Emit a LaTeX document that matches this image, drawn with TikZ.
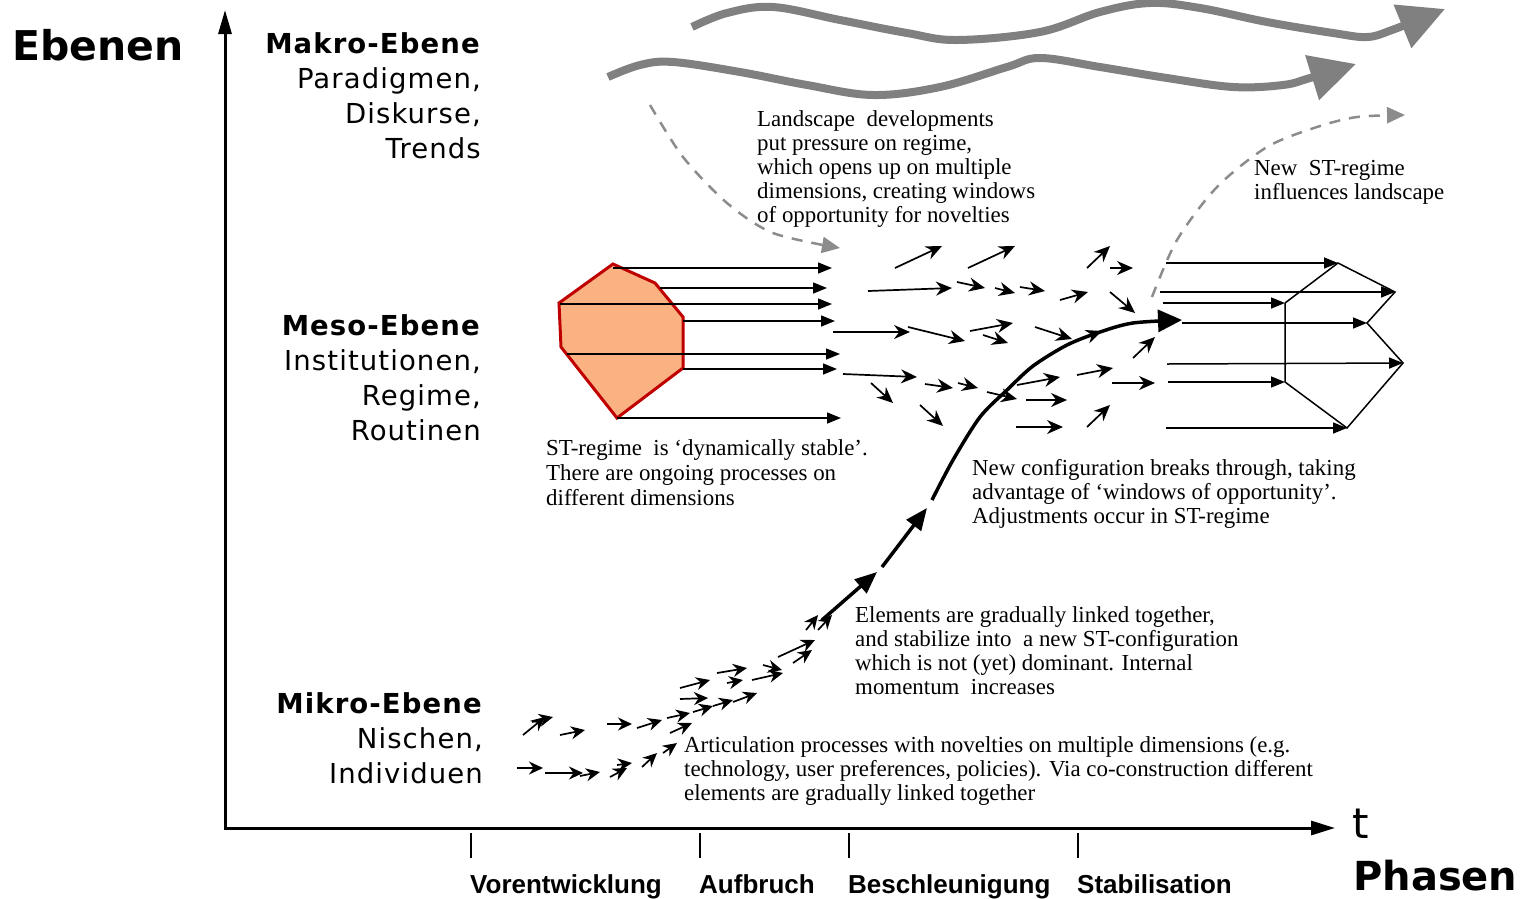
\documentclass[tikz,border=0pt]{standalone}
\usepackage{fontspec}
\setmainfont{Liberation Serif}
\newfontfamily\levelfont[LetterSpace=4]{DejaVu Sans}
\newfontfamily\titlefont{DejaVu Sans}
\newfontfamily\phasefont{Liberation Sans}
\usepackage{tikz}
\usetikzlibrary{arrows.meta}
\definecolor{regimefill}{HTML}{FAB283}
\definecolor{regimeline}{HTML}{C00000}

\begin{document}
\begin{tikzpicture}[x=1pt, y=-1pt,
    axis/.style={line width=3pt},
    tick/.style={line width=2.5pt},
    wave/.style={line width=8pt, black!50, -{Triangle[length=46pt,width=45pt]}},
    land/.style={line width=2.5pt, black!45, dash pattern=on 11pt off 9pt, -{Triangle[length=18pt,width=16pt]}},
    flow/.style={line width=1.5pt, -{Triangle[length=14pt,width=11pt]}},
    nov/.style={line width=1.7pt, -{Stealth[length=16pt,width=14pt]}},
    niche/.style={line width=1.7pt, -{Stealth[length=14pt,width=13pt]}},
    trajectory/.style={line width=3.5pt},
    level/.style={font=\levelfont\fontsize{27.5}{35}\selectfont, align=right, inner sep=0, anchor=north east},
    note/.style={font=\fontsize{22.9}{24}\selectfont, align=left, inner sep=0, anchor=north west},
    phase/.style={font=\phasefont\bfseries\fontsize{26}{30}\selectfont, inner sep=0, anchor=base west},
    title/.style={font=\titlefont\bfseries\fontsize{41}{45}\selectfont, inner sep=0, anchor=base west}
]
\useasboundingbox (0,0) rectangle (1529,898);

% axes
\coordinate (origin) at (225,828);
\coordinate (ytip) at (225,10);
\coordinate (xtip) at (1335,828);
\draw[axis, {Triangle[length=24pt,width=13pt]}-{Triangle[length=24pt,width=14pt]}] (ytip) -- (origin) -- (xtip);
\node[title] (ebenen) at (12,60) {Ebenen};
\node[title, font=\titlefont\bfseries\fontsize{40}{44}\selectfont] (phasen) at (1353,890) {Phasen};
\node[font=\titlefont\fontsize{42}{45}\selectfont, inner sep=0, anchor=base west] (t) at (1352,838) {t};

% phases
\foreach \x/\name/\txt in {471/vor/Vorentwicklung, 700/auf/Aufbruch, 849/bes/Beschleunigung, 1078/sta/Stabilisation}{
    \draw[tick] (\x,833) -- (\x,858);
    \node[phase] (\name) at (\x-1,893) {\txt};
}

% levels
\node[level] (makro) at (481,32) {\textbf{Makro-Ebene}\\Paradigmen,\\Diskurse,\\Trends};
\node[level] (meso) at (481,314) {\textbf{Meso-Ebene}\\Institutionen,\\Regime,\\Routinen};
\node[level] (mikro) at (483,692) {\textbf{Mikro-Ebene}\\Nischen,\\Individuen};

% landscape
\draw[wave] plot[smooth, tension=0.6] coordinates {(692,27) (727,13) (773,7) (840,20) (907,33) (957,40) (1040,32) (1100,12) (1150,3) (1200,8) (1267,22) (1333,33) (1367,37) (1392,30) (1445,9)};
\draw[wave] plot[smooth, tension=0.6] coordinates {(608,77) (640,65) (673,62) (740,72) (807,85) (873,95) (940,87) (1007,67) (1040,58) (1100,67) (1167,78) (1233,87) (1283,85) (1310,78) (1356,64)};
\draw[land] plot[smooth] coordinates {(650,105) (683,157) (727,203) (773,233) (840,248)};
\draw[land] plot[smooth] coordinates {(1152,297) (1177,240) (1217,187) (1267,147) (1317,127) (1357,117) (1405,115)};

% ST-regime
\draw[fill=regimefill, draw=regimeline, line width=3pt, line join=miter]
    (613,264) -- (655,283) -- (683,317) -- (683,368) -- (617,418) -- (561,347) -- (559,303) -- cycle;
\foreach \y/\xa/\xb in {268/613/832, 288/660/827, 304/560/832, 321/683/835, 354/567/840, 369/683/837, 418/617/841}
    \draw[flow] (\xa,\y) -- (\xb,\y);

% opening regime
\foreach \xa/\ya/\xb/\yb in {895/268/942/246, 968/268/1015/246, 868/291/952/288, 957/282/985/288,
    995/288/1015/293, 1020/287/1045/291, 1060/300/1088/292, 1110/292/1135/313, 1087/268/1110/246,
    1110/268/1133/268, 833/332/910/332, 908/327/965/341, 970/331/1013/323, 983/335/1008/343,
    1035/327/1072/339, 1133/358/1155/337, 843/374/917/377, 871/383/893/403, 925/384/953/388,
    958/383/978/388, 987/392/1017/399, 920/405/943/426, 1017/385/1060/377, 1077/375/1113/368,
    1112/383/1155/383, 1026/400/1067/400, 1016/427/1063/427, 1087/427/1110/405, 1070/343/1102/331}
    \draw[nov] (\xa,\ya) -- (\xb,\yb);

% niches
\foreach \xa/\ya/\xb/\yb in {523/735/545/717, 532/722/553/717, 560/735/585/730, 607/724/632/724,
    637/728/662/720, 667/718/690/713, 670/733/692/723, 680/688/710/680, 680/699/708/698,
    693/712/713/706, 713/706/733/700, 733/702/757/693, 717/673/747/668, 727/683/743/680,
    763/665/782/670, 752/680/783/673, 778/657/815/640, 793/663/812/650, 806/630/818/615,
    818/630/832/615, 517/768/543/768, 545/773/583/773, 580/776/600/772, 610/777/627/768,
    617/765/632/763, 642/767/657/753, 663/753/677/743}
    \draw[niche] (\xa,\ya) -- (\xb,\yb);

% new configuration
\draw[trajectory, -{Triangle[length=22pt,width=18pt]}] (822,620) -- (877,572);
\draw[trajectory, -{Triangle[length=22pt,width=18pt]}] (882,567) -- (927,508);
\draw[trajectory, -{Triangle[length=24pt,width=22pt]}] plot[smooth] coordinates {(932,500) (953,460) (980,417) (1007,390) (1033,366) (1067,345) (1100,332) (1133,323) (1182,320)};

% new ST-regime
\coordinate (pA) at (1338,263);
\coordinate (pB) at (1395,292);
\coordinate (pC) at (1285,303);
\coordinate (pD) at (1367,323);
\coordinate (pE) at (1403,363);
\coordinate (pF) at (1285,382);
\coordinate (pG) at (1347,428);
\foreach \xa/\ya/\p in {1166/263/pA, 1160/292/pB, 1163/303/pC, 1182/323/pD, 1167/364/pE, 1168/382/pF, 1166/428/pG}
    \draw[flow] (\xa,\ya) -- (\p);
\draw[line width=1.5pt] (pC) -- (pA) -- (pB) -- (pD) -- (pE) -- (pG) -- (pF) -- (pC);

% texts
\node[note] (landtxt) at (757,110) {Landscape\ \ developments\\put pressure on regime,\\which opens up on multiple\\dimensions, creating windows\\of opportunity for novelties};
\node[note] (newregtxt) at (1254,160) {New\ \ ST-regime\\influences landscape};
\node[note, font=\fontsize{22.9}{25}\selectfont] (stabletxt) at (546,439) {ST-regime\ \ is ‘dynamically stable’.\\There are ongoing processes on\\different dimensions};
\node[note] (configtxt) at (972,459) {New configuration breaks through, taking\\advantage of ‘windows of opportunity’.\\Adjustments occur in ST-regime};
\node[note] (elemtxt) at (855,606) {Elements are gradually linked together,\\and stabilize into\ \ a new ST-configuration\\which is not (yet) dominant. Internal\\momentum\ \ increases};
\node[note] (artictxt) at (684,736) {Articulation processes with novelties on multiple dimensions (e.g.\\technology, user preferences, policies). Via co-construction different\\elements are gradually linked together};
\end{tikzpicture}
\end{document}
